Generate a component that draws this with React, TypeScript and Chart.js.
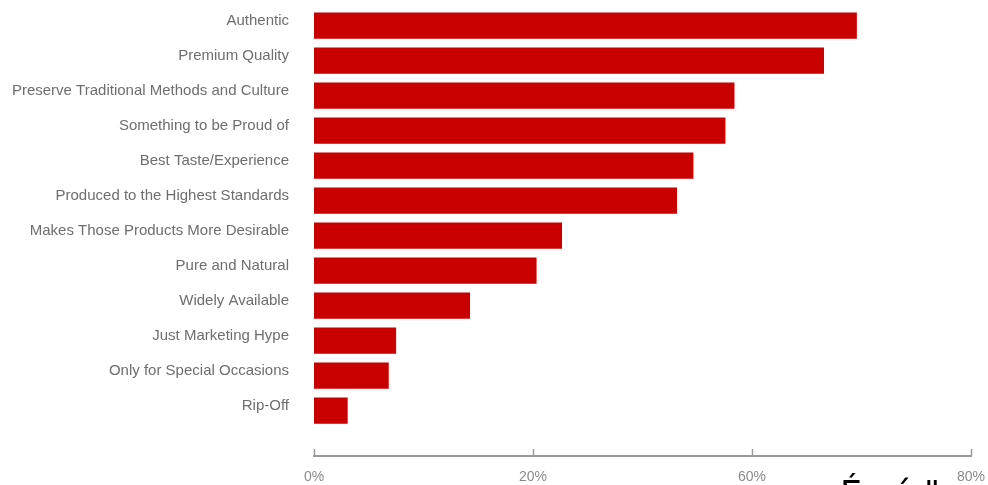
import React, { useEffect, useRef } from 'react';
import { Chart, registerables } from 'chart.js';

Chart.register(...registerables);

const categories = [
  'Authentic',
  'Premium Quality',
  'Preserve Traditional Methods and Culture',
  'Something to be Proud of',
  'Best Taste/Experience',
  'Produced to the Highest Standards',
  'Makes Those Products More Desirable',
  'Pure and Natural',
  'Widely Available',
  'Just Marketing Hype',
  'Only for Special Occasions',
  'Rip-Off',
];

const values = [66.1, 62.1, 51.2, 50.1, 46.2, 44.2, 30.2, 27.1, 19.0, 10.0, 9.1, 4.1];

const tickValues = [0, 26.667, 53.333, 80];
const tickLabels = ['0%', '20%', '60%', '80%'];

const strayGlyphs = ['É', 'ú', '"'];
const strayLeft = [840, 892, 924];

const upTicks = {
  id: 'upTicks',
  afterDraw(chart: any) {
    const xs = chart.scales.x;
    const ctx = chart.ctx;
    const bottom = chart.chartArea.bottom;
    ctx.save();
    ctx.strokeStyle = '#9a9a9a';
    ctx.lineWidth = 1.5;
    xs.ticks.forEach((t: any) => {
      const px = Math.round(xs.getPixelForValue(t.value)) + 0.5;
      ctx.beginPath();
      ctx.moveTo(px, bottom);
      ctx.lineTo(px, bottom - 7);
      ctx.stroke();
    });
    ctx.restore();
  },
};

export default function App() {
  const ref = useRef<HTMLCanvasElement | null>(null);

  useEffect(() => {
    if (!ref.current) return;
    const chart = new Chart(ref.current, {
      type: 'bar',
      data: {
        datasets: [
          {
            data: values.map((v, i) => ({ x: v, y: i })),
            backgroundColor: '#c80000',
            borderWidth: 0,
            barPercentage: 0.75,
            categoryPercentage: 1,
          },
        ],
      },
      options: {
        indexAxis: 'y',
        animation: false,
        responsive: true,
        maintainAspectRatio: false,
        layout: { padding: { top: 8, right: 17, left: 0, bottom: 0 } },
        plugins: { legend: { display: false }, tooltip: { enabled: false } },
        scales: {
          x: {
            type: 'linear',
            min: 0,
            max: 80,
            afterBuildTicks: (s: any) => {
              s.ticks = tickValues.map((v) => ({ value: v }));
            },
            afterFit: (s: any) => {
              s.height = 29;
              s.paddingRight = 0;
              s.paddingLeft = 0;
            },
            grid: { display: false, drawTicks: false },
            border: { display: true, color: '#9a9a9a', width: 2 },
            ticks: {
              padding: 13,
              color: '#8a8a8a',
              font: { family: 'Liberation Sans, Arial, sans-serif', size: 14 },
              maxRotation: 0,
              callback: (_v: any, i: number) => tickLabels[i],
            },
          },
          y: {
            type: 'linear',
            reverse: true,
            offset: false,
            min: -0.5,
            max: 12.3,
            afterBuildTicks: (s: any) => {
              s.ticks = categories.map((_c, i) => ({ value: i }));
            },
            afterFit: (s: any) => {
              s.width = 314;
              s.paddingTop = 0;
              s.paddingBottom = 0;
            },
            grid: { display: false, drawTicks: false, offset: false },
            border: { display: false },
            ticks: {
              padding: 25,
              labelOffset: -5,
              color: '#6e6e6e',
              font: { family: 'Liberation Sans, Arial, sans-serif', size: 15 },
              callback: (v: any) => categories[v] ?? '',
            },
          },
        },
      },
      plugins: [upTicks],
    });
    return () => chart.destroy();
  }, []);

  return (
    <div style={{ position: 'absolute', left: 0, top: 0, width: 988, height: 485, overflow: 'hidden', background: '#fff' }}>
      <canvas ref={ref} />
      {strayGlyphs.map((g, i) => (
        <div
          key={i}
          style={{
            position: 'absolute',
            left: strayLeft[i],
            top: 477,
            fontSize: 35,
            lineHeight: 1,
            fontFamily: 'DejaVu Sans, sans-serif',
            color: '#000',
            whiteSpace: 'pre',
          }}
        >
          {g}
        </div>
      ))}
    </div>
  );
}
